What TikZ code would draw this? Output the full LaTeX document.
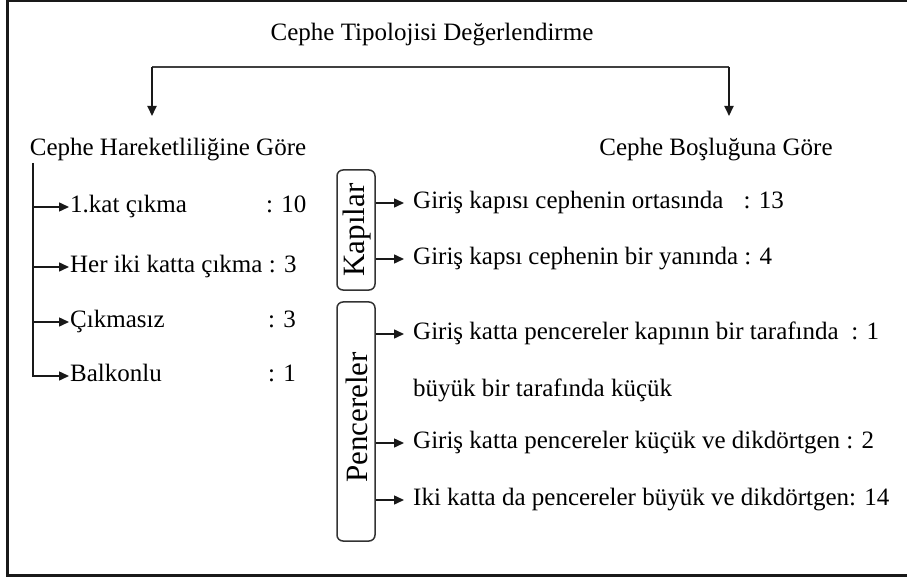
\documentclass[tikz,border=0pt]{standalone}
\usepackage{fontspec}
\setmainfont{Liberation Serif}
\usetikzlibrary{arrows.meta}
\begin{document}
\begin{tikzpicture}[x=1bp,y=-1bp,
  txt/.style={inner sep=0pt,font=\fontsize{25bp}{30bp}\selectfont,text height=17bp,text depth=6bp,text=black},
  rtxt/.style={rotate=90,inner sep=0pt,font=\fontsize{31bp}{34bp}\selectfont},
  arr/.style={draw=black!90,line width=1.5bp,-{Triangle[length=10bp,width=9bp]}},
  brk/.style={draw=black!75,line width=2.2bp},
  vbox/.style={draw=black!80,line width=1.5bp,rounded corners=6bp,minimum width=38bp,inner sep=0pt}]
\useasboundingbox (0,0) rectangle (907,578);
% outer frame (right side lies beyond the picture)
\draw[line width=2.4bp,black!90] (940,1) -- (7.5,1) -- (7.5,575.5) -- (940,575.5);
% title and bracket
\node[txt] (title) at (432,35) {Cephe Tipolojisi Değerlendirme};
\coordinate (bl) at (152,67);
\coordinate (br) at (729,67);
\coordinate (tl) at (152,116);
\coordinate (tr) at (729,116);
\draw[brk] (bl) -- (br);
\draw[arr,line width=2bp] (bl) -- (tl);
\draw[arr,line width=2bp] (br) -- (tr);
\node[txt] (lh) at (168,150) {Cephe Hareketliliğine Göre};
\node[txt] (rh) at (716,150) {Cephe Boşluğuna Göre};
% left column
\node[txt,anchor=west] (l1) at (70,207) {1.kat çıkma};
\node[txt,anchor=west] (l2) at (70,267) {Her iki katta çıkma : 3};
\node[txt,anchor=west] (l3) at (70,322) {Çıkmasız};
\node[txt,anchor=west] (l4) at (70,376) {Balkonlu};
\node[txt,anchor=west] (v1) at (266,207) {: 10};
\node[txt,anchor=west] (v3) at (268,322) {: 3};
\node[txt,anchor=west] (v4) at (268,376) {: 1};
\coordinate (lt) at (33,163);
\draw[arr] (lt) |- ([xshift=-1bp]l4.west);
\draw[arr] (lt |- l1.west) -- ([xshift=-1bp]l1.west);
\draw[arr] (lt |- l2.west) -- ([xshift=-1bp]l2.west);
\draw[arr] (lt |- l3.west) -- ([xshift=-1bp]l3.west);
% right column boxes
\node[vbox,minimum height=120bp] (kap) at (356,230) {};
\node[rtxt] (kapt) at ([xshift=1bp]kap.center) {Kapılar};
\node[vbox,minimum height=239bp] (pen) at (356,421.5) {};
\node[rtxt] (pent) at ([xshift=1bp,yshift=4bp]pen.center) {Pencereler};
% right column items
\node[txt,anchor=west] (r1) at (413,203) {Giriş kapısı cephenin ortasında\hspace{0.8em}: 13};
\node[txt,anchor=west] (r2) at (413,259) {Giriş kapsı cephenin bir yanında : 4};
\node[txt,anchor=west] (r3) at (413,334) {Giriş katta pencereler kapının bir tarafında\hspace{0.5em}: 1};
\node[txt,anchor=west] (r4) at (413,391) {büyük bir tarafında küçük};
\node[txt,anchor=west] (r5) at (413,443) {Giriş katta pencereler küçük ve dikdörtgen : 2};
\node[txt,anchor=west] (r6) at (413,500) {Iki katta da pencereler büyük ve dikdörtgen: 14};
\draw[arr] (kap.east |- r1.west) -- ([xshift=-9bp]r1.west);
\draw[arr] (kap.east |- r2.west) -- ([xshift=-9bp]r2.west);
\draw[arr] (pen.east |- r3.west) -- ([xshift=-9bp]r3.west);
\draw[arr] (pen.east |- r5.west) -- ([xshift=-9bp]r5.west);
\draw[arr] (pen.east |- r6.west) -- ([xshift=-9bp]r6.west);
\end{tikzpicture}
\end{document}
